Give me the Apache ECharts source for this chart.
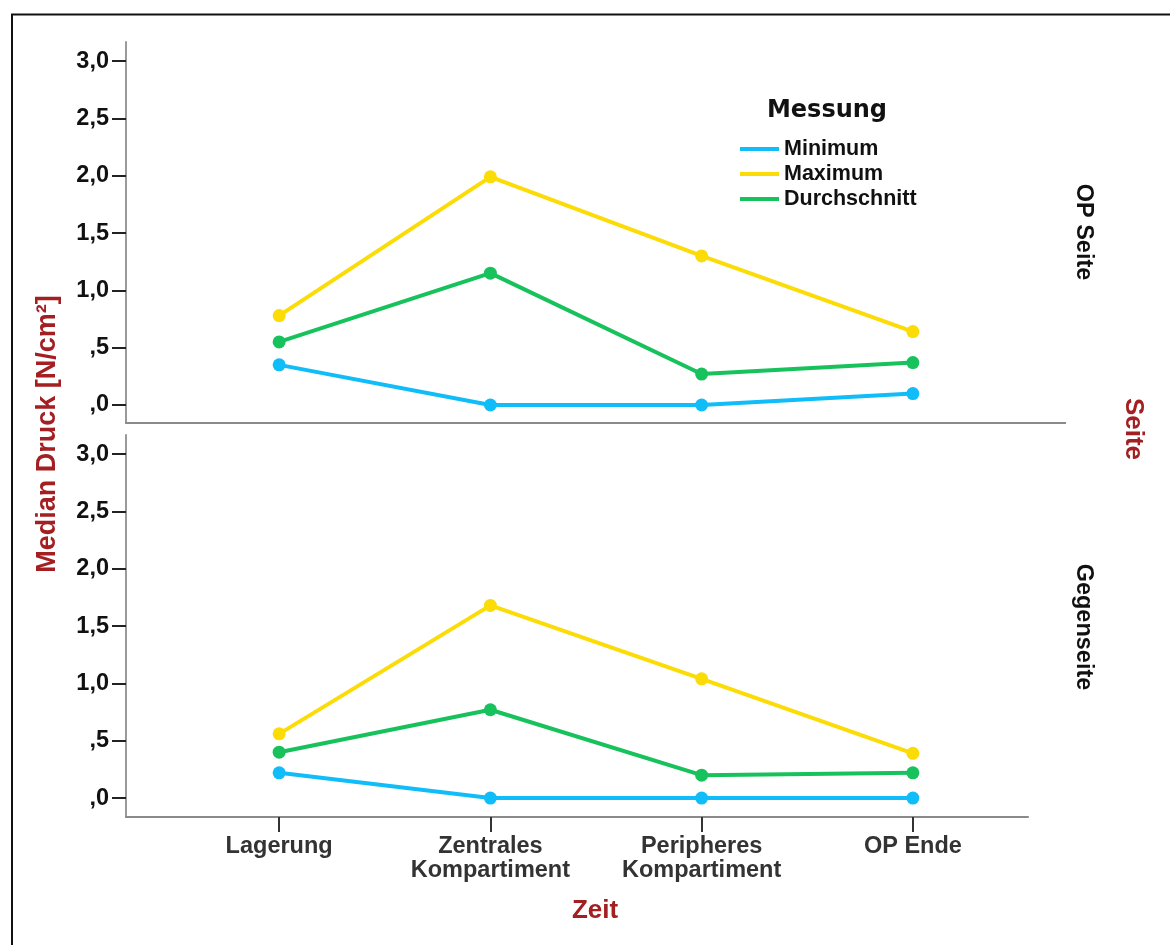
<!DOCTYPE html>
<html>
<head>
<meta charset="utf-8">
<script src="https://cdn.jsdelivr.net/npm/echarts@6/dist/echarts.min.js"></script>
<style>
  html, body { margin: 0; padding: 0; background: #fff; }
  #chart { width: 1170px; height: 945px; }
</style>
</head>
<body>
<div id="chart"></div>
<script>
// ---- data ----
const categories = ['Lagerung', 'Zentrales\nKompartiment', 'Peripheres\nKompartiment', 'OP Ende'];
const panelNames = ['OP Seite', 'Gegenseite'];
const seriesNames = ['Minimum', 'Maximum', 'Durchschnitt'];
const opMin = [0.35, 0.00, 0.00, 0.10];
const opMax = [0.78, 1.99, 1.30, 0.64];
const opAvg = [0.55, 1.15, 0.27, 0.37];
const gegMin = [0.22, 0.00, 0.00, 0.00];
const gegMax = [0.56, 1.68, 1.04, 0.39];
const gegAvg = [0.40, 0.77, 0.20, 0.22];
const yTickValues = [0, 0.5, 1, 1.5, 2, 2.5, 3];
const yTickLabels = [',0', ',5', '1,0', '1,5', '2,0', '2,5', '3,0'];
const yAxisTitle = 'Median Druck [N/cm²]';
const xAxisTitle = 'Zeit';
const stripTitle = 'Seite';
const legendTitle = 'Messung';

// ---- styles ----
const colors = ['#10bdf8', '#fbdc06', '#17c25c'];
const font = '"Liberation Sans", Arial, Helvetica, sans-serif';
const red = '#a31f22';
const catIdx = categories.map((_, i) => i);

function yAxisCfg(gridIndex, min, max) {
  return {
    type: 'value', gridIndex, min, max,
    axisLine: { show: true, onZero: false, lineStyle: { color: '#9a9a9a', width: 2 } },
    axisTick: { show: true, length: 14, customValues: yTickValues, lineStyle: { color: '#222', width: 2 } },
    axisLabel: {
      show: true, margin: 17, customValues: yTickValues,
      formatter: v => { const i = yTickValues.findIndex(t => Math.abs(t - v) < 1e-6); return i >= 0 ? yTickLabels[i] : ''; },
      fontFamily: font, fontWeight: 'bold', fontSize: 23.5, color: '#111'
    },
    splitLine: { show: false }
  };
}
function xAxisCfg(gridIndex, showLabels) {
  return {
    type: 'value', gridIndex, min: -0.725, max: 3.545,
    axisLine: { show: true, onZero: false, lineStyle: { color: '#8a8a8a', width: 2 } },
    axisTick: { show: showLabels, length: 15, customValues: catIdx, lineStyle: { color: '#333', width: 2 } },
    axisLabel: {
      show: showLabels, margin: 18, customValues: catIdx,
      formatter: v => categories[Math.round(v)] || '',
      fontFamily: font, fontWeight: 'bold', fontSize: 23.5, lineHeight: 24, color: '#333'
    },
    splitLine: { show: false }
  };
}
function lineSeries(name, values, idx, ci) {
  return {
    type: 'line', name, xAxisIndex: idx, yAxisIndex: idx,
    data: values.map((v, i) => [catIdx[i], v]),
    symbol: 'circle', symbolSize: 13,
    lineStyle: { width: 4, color: colors[ci] },
    itemStyle: { color: colors[ci] },
    emphasis: { disabled: true }
  };
}

const chart = echarts.init(document.getElementById('chart'), null, { renderer: 'canvas' });
chart.setOption({
  animation: false,
  backgroundColor: '#fff',
  grid: [
    { left: 126, top: 42, width: 902, height: 381 },
    { left: 126, top: 435, width: 902, height: 382 }
  ],
  xAxis: [xAxisCfg(0, false), xAxisCfg(1, true)],
  yAxis: [yAxisCfg(0, -0.157, 3.166), yAxisCfg(1, -0.165, 3.166)],
  legend: {
    data: seriesNames, orient: 'vertical', left: 740, top: 138, padding: 0,
    icon: 'rect', itemWidth: 39, itemHeight: 4, itemGap: 3,
    selectedMode: false,
    textStyle: { fontFamily: font, fontWeight: 'bold', fontSize: 21.5, lineHeight: 21, color: '#111' }
  },
  series: [
    lineSeries(seriesNames[0], opMin, 0, 0),
    lineSeries(seriesNames[1], opMax, 0, 1),
    lineSeries(seriesNames[2], opAvg, 0, 2),
    lineSeries(seriesNames[0], gegMin, 1, 0),
    lineSeries(seriesNames[1], gegMax, 1, 1),
    lineSeries(seriesNames[2], gegAvg, 1, 2)
  ],
  graphic: [
    { type: 'rect', shape: { x: 12, y: 14.5, width: 2000, height: 2000 }, style: { fill: 'none', stroke: '#111', lineWidth: 2 }, silent: true },
    { type: 'line', shape: { x1: 1028, y1: 423, x2: 1066, y2: 423 }, style: { stroke: '#8a8a8a', lineWidth: 2 }, silent: true },
    { type: 'text', x: 827, y: 111, style: { text: legendTitle, font: 'bold 24px "DejaVu Sans", Verdana, sans-serif', fill: '#111', align: 'center', verticalAlign: 'middle' } },
    { type: 'text', x: 1083, y: 232, rotation: -Math.PI / 2, style: { text: panelNames[0], font: 'bold 23.5px ' + font, fill: '#111', align: 'center', verticalAlign: 'middle' } },
    { type: 'text', x: 1083, y: 627, rotation: -Math.PI / 2, style: { text: panelNames[1], font: 'bold 23.5px ' + font, fill: '#111', align: 'center', verticalAlign: 'middle' } },
    { type: 'text', x: 1133, y: 429, rotation: -Math.PI / 2, style: { text: stripTitle, font: 'bold 26px ' + font, fill: red, align: 'center', verticalAlign: 'middle' } },
    { type: 'text', x: 48, y: 434, rotation: Math.PI / 2, style: { text: yAxisTitle, font: 'bold 27px ' + font, fill: red, align: 'center', verticalAlign: 'middle' } },
    { type: 'text', x: 595, y: 911, style: { text: xAxisTitle, font: 'bold 26px ' + font, fill: red, align: 'center', verticalAlign: 'middle' } }
  ]
});
</script>
</body>
</html>
